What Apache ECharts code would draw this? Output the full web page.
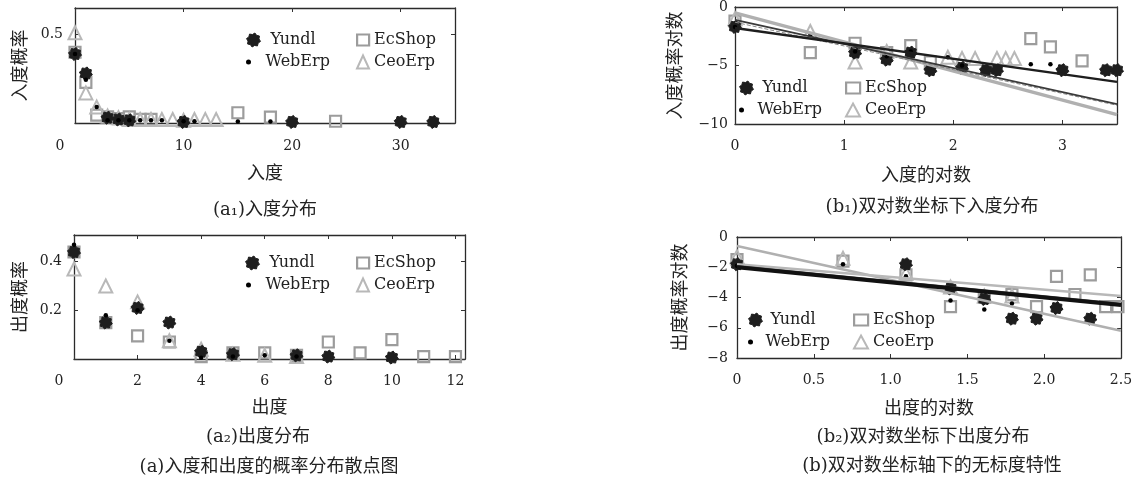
<!DOCTYPE html>
<html><head><meta charset="utf-8">
<script src="https://cdn.jsdelivr.net/npm/echarts@6/dist/echarts.min.js"></script>
<style>html,body{margin:0;padding:0;background:#fff}#c{width:1138px;height:482px}</style>
</head><body><div id="c"></div>
<script>
// ---------- data ----------
const seriesNames = ['Yundl', 'WebErp', 'EcShop', 'CeoErp'];

// (a1) in-degree distribution
const a1Yundl  = [[0,0.39],[1,0.28],[3,0.03],[4,0.02],[5,0.015],[10,0.006],[20,0.006],[30,0.006],[33,0.006]];
const a1WebErp = [[0,0.39],[1,0.245],[2,0.09],[3,0.015],[4,0.015],[5,0.015],[6,0.015],[7,0.015],[8,0.015],[10,0.01],[11,0.01],[15,0.008],[18,0.008]];
const a1EcShop = [[0,0.40],[1,0.23],[2,0.045],[3,0.035],[4,0.025],[5,0.035],[6,0.02],[7,0.02],[15,0.058],[18,0.033],[24,0.01]];
const a1CeoErp = [[0,0.51],[1,0.17],[2,0.09],[3,0.04],[4,0.03],[5,0.02],[6,0.02],[7,0.02],[8,0.02],[9,0.02],[10,0.015],[11,0.02],[12,0.02],[13,0.02]];

// (a2) out-degree distribution
const a2Yundl  = [[0,0.44],[1,0.15],[2,0.21],[3,0.15],[4,0.03],[5,0.02],[7,0.015],[8,0.01],[10,0.006]];
const a2WebErp = [[0,0.47],[1,0.18],[2,0.20],[3,0.075],[4,0.005],[5,0.01],[6,0.015],[7,0.01]];
const a2EcShop = [[0,0.44],[1,0.15],[2,0.095],[3,0.07],[4,0.01],[5,0.025],[6,0.025],[7,0.015],[8,0.07],[9,0.025],[10,0.08],[11,0.01],[12,0.01]];
const a2CeoErp = [[0,0.37],[1,0.30],[2,0.235],[3,0.075],[4,0.04],[5,0.02],[6,0.015],[7,0.01]];

// (b1) log-log in-degree
const b1Yundl  = [[0,-1.7],[1.1,-3.9],[1.39,-4.5],[1.61,-3.9],[1.79,-5.4],[2.08,-5.2],[2.3,-5.4],[2.4,-5.4],[3.0,-5.4],[3.4,-5.4],[3.5,-5.4]];
const b1WebErp = [[0,-1.7],[0.69,-2.4],[1.1,-3.8],[1.39,-4.2],[1.61,-3.8],[1.95,-4.3],[2.08,-5.0],[2.71,-4.9],[2.89,-4.9]];
const b1EcShop = [[0,-1.2],[0.69,-3.9],[1.1,-3.1],[1.39,-3.9],[1.61,-3.3],[1.79,-4.7],[2.71,-2.7],[2.89,-3.4],[3.18,-4.6]];
const b1CeoErp = [[0,-1.0],[0.69,-2.1],[1.1,-4.7],[1.39,-3.8],[1.61,-4.7],[1.95,-4.3],[2.08,-4.4],[2.2,-4.4],[2.4,-4.4],[2.48,-4.4],[2.56,-4.4]];
// fitted lines (end points)
const b1FitA = [[0,-1.8],[3.5,-6.4]];
const b1FitB = [[0,-1.1],[3.5,-8.3]];
const b1FitC = [[0,-0.5],[3.5,-9.2]];
const b1FitD = [[0,-1.3],[3.5,-8.4]];

// (b2) log-log out-degree
const b2Yundl  = [[0,-1.8],[1.1,-1.8],[1.39,-3.4],[1.61,-4.1],[1.79,-5.4],[1.95,-5.4],[2.08,-4.7],[2.3,-5.4]];
const b2WebErp = [[0,-1.9],[0.69,-1.8],[1.1,-2.6],[1.39,-4.2],[1.61,-4.8],[1.79,-4.4]];
const b2EcShop = [[0,-1.5],[0.69,-1.6],[1.1,-2.5],[1.39,-4.6],[1.61,-4.0],[1.79,-3.8],[1.95,-4.6],[2.08,-2.6],[2.2,-3.8],[2.3,-2.5],[2.4,-4.6],[2.48,-4.6]];
const b2CeoErp = [[0,-1.3],[0.69,-1.4],[1.1,-2.4],[1.39,-3.3],[1.61,-3.9],[1.79,-3.9]];
const b2FitA = [[0,-2.0],[2.5,-4.5]];
const b2FitB = [[0,-0.6],[2.5,-6.2]];
const b2FitC = [[0,-1.8],[2.5,-3.9]];
const b2FitD = [[0,-1.9],[2.5,-4.4]];

// tick label texts
const xLabelsA1 = ['0','10','20','30'];
const yLabelsA1 = ['0.5'];
const yLabelsA2 = ['0.2','0.4'];

// ---------- styling / layout ----------
const SERIF = '"DejaVu Serif", "Liberation Serif", serif';
const CJK = '"Noto Sans CJK SC", sans-serif';
const MIX = '"DejaVu Serif", "Noto Sans CJK SC", serif';

function flowerPath() {
  let d = '';
  const n = 8;
  for (let i = 0; i < 2 * n; i++) {
    const a = i * Math.PI / n + Math.PI / 16;
    const r = (i % 2) ? 0.78 : 1;
    const x = 10 + 10 * r * Math.cos(a), y = 10 + 10 * r * Math.sin(a);
    d += (i ? 'L' : 'M') + x.toFixed(2) + ',' + y.toFixed(2);
  }
  return 'path://' + d + 'Z';
}
const FLOWER = flowerPath();

const styleOf = {
  Yundl:  { symbol: FLOWER, size: 13, itemStyle: { color: '#1e1e1e', borderColor: '#1e1e1e', borderWidth: 1, opacity: 1 } },
  WebErp: { symbol: 'circle', size: 4.5, itemStyle: { color: '#000', opacity: 1 } },
  EcShop: { symbol: 'rect', size: 11, itemStyle: { color: 'rgba(255,255,255,0)', borderColor: '#9c9c9c', borderWidth: 2.2, opacity: 1 } },
  CeoErp: { symbol: 'triangle', size: 13, itemStyle: { color: 'rgba(255,255,255,0)', borderColor: '#b8b8b8', borderWidth: 2, opacity: 1 } }
};

const grids = [
  { left: 75, top: 8, width: 380, height: 115 },
  { left: 74, top: 235, width: 391, height: 124 },
  { left: 735, top: 7, width: 382, height: 117 },
  { left: 737, top: 237, width: 384, height: 121 }
];

const near = (a, b) => Math.abs(a - b) < 1e-9;
const minusFmt = v => v < 0 ? '\u2212' + (-v) : String(v);
const zeroShift = v => near(v, 0) ? '{s|0}' : String(Math.round(v));

const axisCfg = [
  { xMin: 0, xMax: 35, xInt: 10, yMin: 0, yMax: 0.65, yInt: 0.5, xName: '入度', yName: '入度概率',
    xGap: 40, yGap: 47, xMargin: 16, yMargin: 12, shiftZero: true,
    xFmt: v => xLabelsA1.find(t => near(+t, v)) ? zeroShift(v) : '', yFmt: v => yLabelsA1.find(t => near(+t, v)) || '' },
  { xMin: 0, xMax: 12.3, xInt: 2, yMin: 0, yMax: 0.51, yInt: 0.2, xName: '出度', yName: '出度概率',
    xGap: 38, yGap: 46, xMargin: 15, yMargin: 12, shiftZero: true,
    xFmt: v => (near(v, Math.round(v)) && v <= 12) ? zeroShift(v) : '', yFmt: v => yLabelsA2.find(t => near(+t, v)) || '' },
  { xMin: 0, xMax: 3.5, xInt: 1, yMin: -10, yMax: 0, yInt: 5, xName: '入度的对数', yName: '入度概率对数',
    xGap: 41, yGap: 52, xMargin: 15, yMargin: 7,
    xFmt: v => near(v, Math.round(v)) ? String(Math.round(v)) : '', yFmt: minusFmt },
  { xMin: 0, xMax: 2.5, xInt: 0.5, yMin: -8, yMax: 0, yInt: 2, xName: '出度的对数', yName: '出度概率对数',
    xGap: 40, yGap: 49, xMargin: 15, yMargin: 9,
    xFmt: v => v === 0 ? '0' : v.toFixed(1), yFmt: minusFmt }
];

const tick = { show: true, inside: true, length: 4, lineStyle: { color: '#333', width: 1 } };
const frameLine = { show: true, onZero: false, lineStyle: { color: '#2a2a2a', width: 1.3 } };
const labelStyle = { fontFamily: SERIF, fontSize: 14, color: '#222' };
const nameStyle = { fontFamily: CJK, fontSize: 18, color: '#222' };

const xAxes = [], yAxes = [];
axisCfg.forEach((c, g) => {
  const xl = Object.assign({ margin: c.xMargin, formatter: c.xFmt, hideOverlap: false }, labelStyle);
  if (c.shiftZero) xl.rich = { s: { fontFamily: SERIF, fontSize: 14, color: '#222', padding: [0, 30, 0, 0] } };
  xAxes.push({ type: 'value', gridIndex: g, min: c.xMin, max: c.xMax, interval: c.xInt, position: 'bottom',
    name: c.xName, nameLocation: 'middle', nameGap: c.xGap, nameTextStyle: nameStyle,
    axisLine: frameLine, splitLine: { show: false }, axisTick: tick, axisLabel: xl });
  xAxes.push({ type: 'value', gridIndex: g, min: c.xMin, max: c.xMax, interval: c.xInt, position: 'top',
    axisLine: frameLine, splitLine: { show: false }, axisTick: tick, axisLabel: { show: false } });
  yAxes.push({ type: 'value', gridIndex: g, min: c.yMin, max: c.yMax, interval: c.yInt, position: 'left',
    name: c.yName, nameLocation: 'middle', nameGap: c.yGap, nameTextStyle: nameStyle,
    axisLine: frameLine, splitLine: { show: false }, axisTick: tick,
    axisLabel: Object.assign({ margin: c.yMargin, formatter: c.yFmt, hideOverlap: false }, labelStyle) });
  yAxes.push({ type: 'value', gridIndex: g, min: c.yMin, max: c.yMax, interval: c.yInt, position: 'right',
    axisLine: frameLine, splitLine: { show: false }, axisTick: tick, axisLabel: { show: false } });
});

const plotData = [
  { Yundl: a1Yundl, WebErp: a1WebErp, EcShop: a1EcShop, CeoErp: a1CeoErp },
  { Yundl: a2Yundl, WebErp: a2WebErp, EcShop: a2EcShop, CeoErp: a2CeoErp },
  { Yundl: b1Yundl, WebErp: b1WebErp, EcShop: b1EcShop, CeoErp: b1CeoErp },
  { Yundl: b2Yundl, WebErp: b2WebErp, EcShop: b2EcShop, CeoErp: b2CeoErp }
];
const drawOrder = ['EcShop', 'CeoErp', 'Yundl', 'WebErp'];

const series = [];
plotData.forEach((pd, g) => {
  drawOrder.forEach(n => {
    const s = styleOf[n];
    series.push({ name: n, type: 'scatter', xAxisIndex: 2 * g, yAxisIndex: 2 * g,
      symbol: s.symbol, symbolSize: s.size, itemStyle: s.itemStyle, data: pd[n],
      emphasis: { disabled: true }, silent: true });
  });
});

function fitLine(name, g, data, color, width, type) {
  series.push({ name: name, type: 'line', xAxisIndex: 2 * g, yAxisIndex: 2 * g, data: data,
    symbol: 'none', silent: true, lineStyle: { color: color, width: width, type: type || 'solid' },
    emphasis: { disabled: true }, z: 3 });
}
fitLine('fitB1c', 2, b1FitC, '#b0b0b0', 3.5);
fitLine('fitB1d', 2, b1FitD, '#888', 1, 'dashed');
fitLine('fitB1b', 2, b1FitB, '#3a3a3a', 1.6);
fitLine('fitB1a', 2, b1FitA, '#1e1e1e', 2.4);
fitLine('fitB2b', 3, b2FitB, '#b0b0b0', 2.5);
fitLine('fitB2c', 3, b2FitC, '#b8b8b8', 2.5);
fitLine('fitB2d', 3, b2FitD, '#444', 1.5);
fitLine('fitB2a', 3, b2FitA, '#111', 4);

// legends: one item each, positioned by icon centre
const legendPos = [
  { Yundl: [258, 40, 24], WebErp: [258, 62, 24], EcShop: [362, 40, 12], CeoErp: [362, 62, 12] },
  { Yundl: [257, 263, 24], WebErp: [258, 285, 24], EcShop: [362, 263, 12], CeoErp: [362, 285, 12] },
  { Yundl: [750, 88, 22], WebErp: [750, 110, 22], EcShop: [852, 88, 14], CeoErp: [852, 110, 14] },
  { Yundl: [758, 320, 20], WebErp: [758, 342, 20], EcShop: [860, 320, 14], CeoErp: [860, 342, 14] }
];
const legendIcon = {
  Yundl: { icon: FLOWER, h: 14 }, WebErp: { icon: 'circle', h: 5 },
  EcShop: { icon: 'rect', h: 11 }, CeoErp: { icon: 'triangle', h: 13 }
};
const legends = [];
legendPos.forEach(lp => {
  seriesNames.forEach(n => {
    const [cx, cy, w] = lp[n];
    const li = legendIcon[n];
    legends.push({ data: [n], left: cx - w / 2, top: cy - 8, padding: 0, orient: 'vertical',
      itemWidth: w, itemHeight: li.h, icon: li.icon, selectedMode: false,
      itemStyle: Object.assign({}, styleOf[n].itemStyle),
      textStyle: { fontFamily: SERIF, fontSize: 16, color: '#222' } });
  });
});

const captions = [
  ['(a\u2081)入度分布', 265, 210],
  ['(a\u2082)出度分布', 258, 437],
  ['(a)入度和出度的概率分布散点图', 269, 467],
  ['(b\u2081)双对数坐标下入度分布', 932, 207],
  ['(b\u2082)双对数坐标下出度分布', 923, 437],
  ['(b)双对数坐标轴下的无标度特性', 932, 466]
];
const graphic = captions.map(c => ({
  type: 'text', x: c[1], y: c[2], silent: true,
  style: { text: c[0], fill: '#222', fontSize: 18, fontFamily: MIX,
    align: 'center', verticalAlign: 'middle', textAlign: 'center', textVerticalAlign: 'middle' }
}));

const chart = echarts.init(document.getElementById('c'), null, { renderer: 'canvas' });
chart.setOption({
  animation: false,
  backgroundColor: '#fff',
  grid: grids.map(g => Object.assign({ show: false, containLabel: false }, g)),
  xAxis: xAxes,
  yAxis: yAxes,
  legend: legends,
  series: series,
  graphic: graphic
});
</script></body></html>
